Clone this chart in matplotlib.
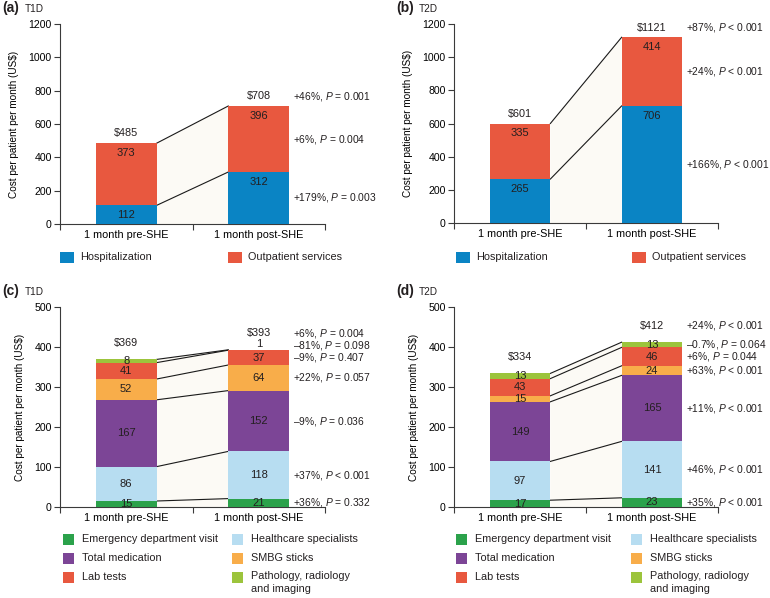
import matplotlib
matplotlib.use("Agg")
import matplotlib.pyplot as plt
from matplotlib.patches import Rectangle

plt.rcParams['font.family'] = ['Liberation Sans', 'DejaVu Sans']
plt.rcParams['mathtext.fontset'] = 'custom'
plt.rcParams['mathtext.rm'] = 'Liberation Sans'
plt.rcParams['mathtext.it'] = 'Liberation Sans:italic'
plt.rcParams['text.color'] = '#231f20'

W, H = 770, 598

# ---- data ----
cats = ['1 month pre-SHE', '1 month post-SHE']

ab_names = ['Hospitalization', 'Outpatient services']
ab_colors = ['#0a84c4', '#e8583f']

t1d_ab_pre = [112, 373]
t1d_ab_post = [312, 396]
t1d_ab_tot = [485, 708]
t1d_ab_chg = [('+179%', '= 0.003'), ('+6%', '= 0.004')]
t1d_ab_tot_chg = ('+46%', '= 0.001')

t2d_ab_pre = [265, 335]
t2d_ab_post = [706, 414]
t2d_ab_tot = [601, 1121]
t2d_ab_chg = [('+166%', '< 0.001'), ('+24%', '< 0.001')]
t2d_ab_tot_chg = ('+87%', '< 0.001')

cd_names = ['Emergency department visit', 'Healthcare specialists', 'Total medication',
            'SMBG sticks', 'Lab tests', 'Pathology, radiology\nand imaging']
cd_colors = ['#2ba24b', '#b7ddf1', '#7c4596', '#f8ad4a', '#e8583f', '#9cc43c']

t1d_cd_pre = [15, 86, 167, 52, 41, 8]
t1d_cd_post = [21, 118, 152, 64, 37, 1]
t1d_cd_tot = [369, 393]
t1d_cd_chg = [('+36%', '= 0.332'), ('+37%', '< 0.001'), ('\u20139%', '= 0.036'),
              ('+22%', '= 0.057'), ('\u20139%', '= 0.407'), ('\u201381%', '= 0.098')]
t1d_cd_tot_chg = ('+6%', '= 0.004')

t2d_cd_pre = [17, 97, 149, 15, 43, 13]
t2d_cd_post = [23, 141, 165, 24, 46, 13]
t2d_cd_tot = [334, 412]
t2d_cd_chg = [('+35%', '< 0.001'), ('+46%', '< 0.001'), ('+11%', '< 0.001'),
              ('+63%', '< 0.001'), ('+6%', '= 0.044'), ('\u20130.7%', '= 0.064')]
t2d_cd_tot_chg = ('+24%', '< 0.001')

fig = plt.figure(figsize=(W / 100, H / 100), dpi=100)


def px_axes(left, top, right, bottom):
    return fig.add_axes([left / W, 1 - bottom / H, (right - left) / W, (bottom - top) / H])


def chg_text(c):
    return c[0] + ', $P$ ' + c[1]


def panel(box, letter, group, pre, post, tots, colors, chg, tot_chg, ymax, ystep,
          mode, tot_off, annot_x):
    ax = px_axes(*box)
    ax.set_xlim(0, 2)
    ax.set_ylim(0, ymax)
    for s in ['top', 'right']:
        ax.spines[s].set_visible(False)
    for s in ['left', 'bottom']:
        ax.spines[s].set_color('#3a3a3a')
        ax.spines[s].set_linewidth(0.8)
    ax.set_yticks(range(0, ymax + 1, ystep))
    ax.set_xticks([0, 1, 2])
    ax.set_xticklabels([])
    ax.set_xticks([0.5, 1.5], minor=True)
    ax.set_xticklabels(cats, minor=True, fontsize=7.8)
    ax.tick_params(axis='x', which='minor', length=0, pad=4)
    ax.tick_params(axis='both', which='major', length=4, width=0.8, color='#3a3a3a',
                   labelsize=7.6, pad=2)
    ax.set_ylabel('Cost per patient per month (US$)', fontsize=7.2, labelpad=7)
    ax.patch.set_alpha(0)

    xs = [0.5, 1.5]
    bw = 0.46
    bottoms_pre = [sum(pre[:i]) for i in range(len(pre))]
    bottoms_post = [sum(post[:i]) for i in range(len(post))]
    for i in range(len(pre)):
        ax.bar(xs[0], pre[i], bw, bottom=bottoms_pre[i], color=colors[i], zorder=3)
        ax.bar(xs[1], post[i], bw, bottom=bottoms_post[i], color=colors[i], zorder=3)

    # connector lines and light fill between the bars
    x0, x1 = xs[0] + bw / 2, xs[1] - bw / 2
    top_pre, top_post = sum(pre), sum(post)
    ax.fill([x0, x1, x1, x0], [0, 0, top_post, top_pre], color='#fcfaf5', zorder=1, lw=0)
    for i in range(len(pre)):
        yp = bottoms_pre[i] + pre[i]
        yq = bottoms_post[i] + post[i]
        ax.plot([x0, x1], [yp, yq], color='#1a1a1a', lw=0.8, zorder=2)

    # segment labels
    for b, vals, bots in [(0, pre, bottoms_pre), (1, post, bottoms_post)]:
        for i, v in enumerate(vals):
            top = bots[i] + v
            if mode == 'top':
                y = top - 0.05 * ymax
                ax.text(xs[b], y, str(v), ha='center', va='center', fontsize=8, zorder=4)
            elif v < 5:
                ax.annotate(str(v), (xs[b], top), xytext=(0, 4), textcoords='offset points',
                            ha='center', va='center', fontsize=8, zorder=4)
            else:
                ax.text(xs[b], bots[i] + v / 2, str(v), ha='center', va='center',
                        fontsize=8, zorder=4)

    # totals
    for b in range(2):
        ax.annotate('$%d' % tots[b], (xs[b], [top_pre, top_post][b]),
                    xytext=(0, tot_off), textcoords='offset points',
                    ha='center', va='center', fontsize=7.8)

    # change annotations to the right (segment centres, nudged apart)
    ys = [bottoms_post[i] + post[i] / 2 for i in range(len(post))]
    gap = 12 * ymax / 200.0
    for i in range(1, len(ys)):
        ys[i] = max(ys[i], ys[i - 1] + gap)
    for i, c in enumerate(chg):
        ax.text(annot_x, ys[i], chg_text(c), ha='left', va='center', fontsize=7.4,
                clip_on=False)
    ax.annotate(chg_text(tot_chg), (annot_x, top_post), xytext=(0, tot_off),
                textcoords='offset points', ha='left', va='center', fontsize=7.4,
                annotation_clip=False)

    # panel letter
    fig.text((box[0] - 58) / W, 1 - (box[1] - 16) / H, '(%s)' % letter, fontsize=10,
             fontweight='bold', ha='left', va='center')
    fig.text((box[0] - 35) / W, 1 - (box[1] - 15) / H, group, fontsize=7.2,
             ha='left', va='center')
    return ax


def legend(items, colors, cols_x, rows_y, sq=(14, 11), tx=6):
    for k, (name, col) in enumerate(zip(items, colors)):
        r, c = divmod(k, len(cols_x))
        x, y = cols_x[c], rows_y[r]
        fig.add_artist(Rectangle((x / W, 1 - (y + sq[1] / 2) / H), sq[0] / W, sq[1] / H,
                                 transform=fig.transFigure, color=col, lw=0))
        if '\n' in name:
            fig.text((x + sq[0] + tx) / W, 1 - (y - 6) / H, name, fontsize=7.8, ha='left',
                     va='top', linespacing=1.4)
        else:
            fig.text((x + sq[0] + tx) / W, 1 - y / H, name, fontsize=7.8, ha='left',
                     va='center')


panel((60, 24, 325, 224), 'a', 'T1D', t1d_ab_pre, t1d_ab_post, t1d_ab_tot, ab_colors,
      t1d_ab_chg, t1d_ab_tot_chg, 1200, 200, 'top', 7, 1.76)
panel((454, 24, 718, 223), 'b', 'T2D', t2d_ab_pre, t2d_ab_post, t2d_ab_tot, ab_colors,
      t2d_ab_chg, t2d_ab_tot_chg, 1200, 200, 'top', 7, 1.76)
panel((60, 307, 325, 507), 'c', 'T1D', t1d_cd_pre, t1d_cd_post, t1d_cd_tot, cd_colors,
      t1d_cd_chg, t1d_cd_tot_chg, 500, 100, 'center', 12, 1.76)
panel((454, 307, 718, 507), 'd', 'T2D', t2d_cd_pre, t2d_cd_post, t2d_cd_tot, cd_colors,
      t2d_cd_chg, t2d_cd_tot_chg, 500, 100, 'center', 12, 1.76)

legend(ab_names, ab_colors, [60, 228], [257])
legend(ab_names, ab_colors, [456, 632], [257])
legend(cd_names, cd_colors, [63, 232], [539, 558, 577], sq=(11, 11), tx=8)
legend(cd_names, cd_colors, [456, 631], [539, 558, 577], sq=(11, 11), tx=8)

fig.savefig('out.png', dpi=100)
